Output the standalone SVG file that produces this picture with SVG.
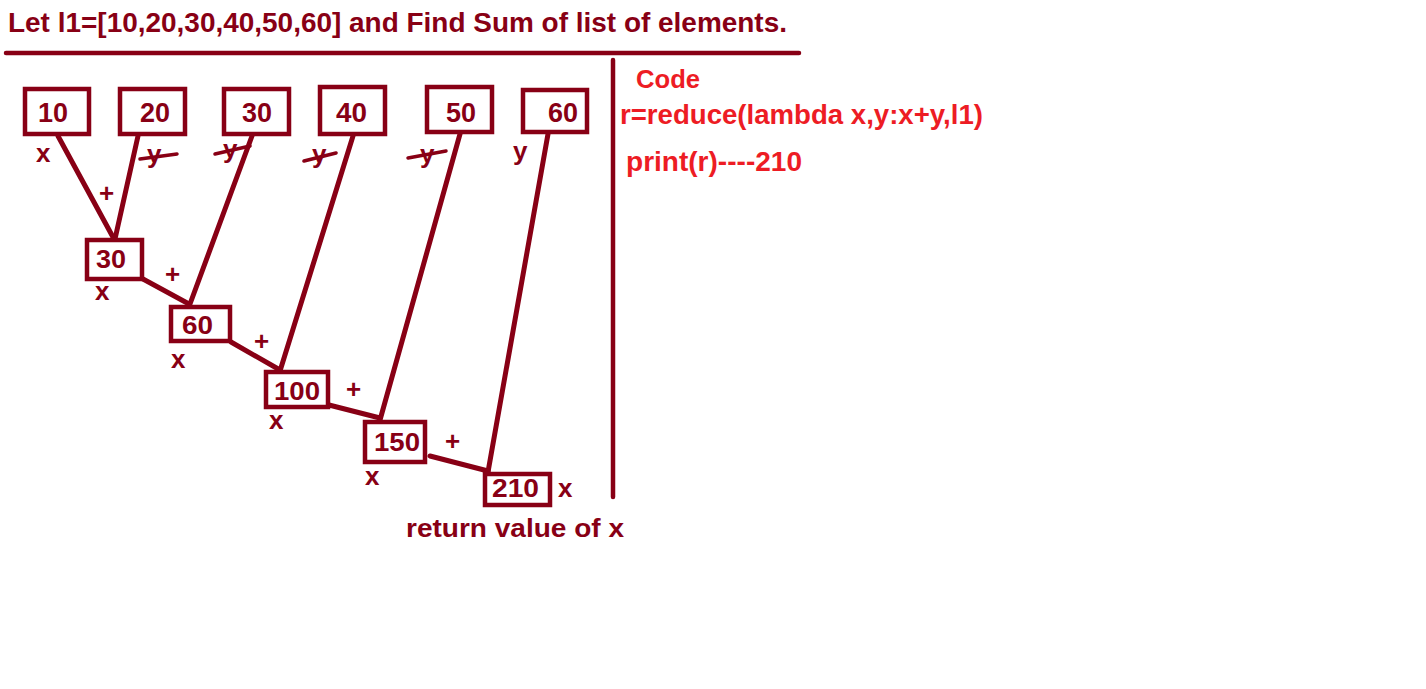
<svg xmlns="http://www.w3.org/2000/svg" width="1426" height="689" viewBox="0 0 1426 689">
<style>
.t{font-family:"Liberation Sans",Arial,sans-serif;font-weight:bold;fill:#880015}
.c{font-family:"Liberation Sans",Arial,sans-serif;font-weight:bold;fill:#ED1C24}
.box{fill:#fff;stroke:#880015;stroke-width:4.5}
.ln{stroke:#880015;stroke-width:5;stroke-linecap:round;fill:none}
.st{stroke:#880015;stroke-width:3.5;stroke-linecap:round;fill:none}
.n{font-size:28px}
.l{font-size:26px}
</style>
<rect width="1426" height="689" fill="#fff"/>
<g id="title">
<text class="t" x="8" y="32" font-size="28" textLength="779" lengthAdjust="spacingAndGlyphs">Let l1=[10,20,30,40,50,60] and Find Sum of list of elements.</text>
<line x1="6" y1="53" x2="799" y2="53" stroke="#880015" stroke-width="4.5" stroke-linecap="round"/>
</g>
<g id="separator">
<line x1="613" y1="60" x2="613" y2="497" stroke="#880015" stroke-width="4.5" stroke-linecap="round"/>
</g>
<g id="code">
<text class="c" x="636" y="88" font-size="26" textLength="64" lengthAdjust="spacingAndGlyphs">Code</text>
<text class="c" x="620" y="124" font-size="27" textLength="363" lengthAdjust="spacingAndGlyphs">r=reduce(lambda x,y:x+y,l1)</text>
<text class="c" x="626" y="171" font-size="27" textLength="176" lengthAdjust="spacingAndGlyphs">print(r)----210</text>
</g>
<g id="connectors">
<line class="ln" x1="58" y1="136" x2="114" y2="239"/>
<line class="ln" x1="138" y1="136" x2="115" y2="239"/>
<line class="ln" x1="252" y1="136" x2="190" y2="304"/>
<line class="ln" x1="143" y1="279" x2="189" y2="304"/>
<line class="ln" x1="353" y1="136" x2="280" y2="371"/>
<line class="ln" x1="231" y1="342" x2="280" y2="370"/>
<line class="ln" x1="460" y1="134" x2="380" y2="420"/>
<line class="ln" x1="329" y1="405" x2="380" y2="418"/>
<line class="ln" x1="548" y1="134" x2="488" y2="472"/>
<line class="ln" x1="430" y1="456" x2="488" y2="471"/>
</g>
<g id="n10"><rect class="box" x="25" y="89" width="64" height="45"/><text class="t n" x="38" y="122" textLength="30" lengthAdjust="spacingAndGlyphs">10</text></g>
<g id="n20"><rect class="box" x="120" y="89" width="65" height="45"/><text class="t n" x="140" y="122" textLength="30" lengthAdjust="spacingAndGlyphs">20</text></g>
<g id="n30"><rect class="box" x="224" y="89" width="65" height="45"/><text class="t n" x="242" y="122" textLength="30" lengthAdjust="spacingAndGlyphs">30</text></g>
<g id="n40"><rect class="box" x="320" y="87" width="65" height="47"/><text class="t n" x="336" y="122" textLength="31" lengthAdjust="spacingAndGlyphs">40</text></g>
<g id="n50"><rect class="box" x="427" y="87" width="65" height="45"/><text class="t n" x="446" y="122" textLength="30" lengthAdjust="spacingAndGlyphs">50</text></g>
<g id="n60"><rect class="box" x="523" y="90" width="64" height="42"/><text class="t n" x="548" y="122" textLength="30" lengthAdjust="spacingAndGlyphs">60</text></g>
<g id="r30"><rect class="box" x="87" y="240" width="55" height="39"/><text class="t l" x="96" y="268" textLength="30" lengthAdjust="spacingAndGlyphs">30</text></g>
<g id="r60"><rect class="box" x="171" y="307" width="59" height="34"/><text class="t l" x="182" y="334" textLength="31" lengthAdjust="spacingAndGlyphs">60</text></g>
<g id="r100"><rect class="box" x="266" y="372" width="62" height="35"/><text class="t l" x="274" y="400" textLength="46" lengthAdjust="spacingAndGlyphs">100</text></g>
<g id="r150"><rect class="box" x="365" y="422" width="60" height="40"/><text class="t l" x="374" y="451" textLength="46" lengthAdjust="spacingAndGlyphs">150</text></g>
<g id="r210"><rect class="box" x="485" y="474" width="65" height="31"/><text class="t l" x="492" y="497" textLength="47" lengthAdjust="spacingAndGlyphs">210</text></g>
<g id="labels">
<text class="t l" x="36" y="162">x</text>
<text class="t l" x="95" y="300">x</text>
<text class="t l" x="171" y="368">x</text>
<text class="t l" x="269" y="429">x</text>
<text class="t l" x="365" y="485">x</text>
<text class="t l" x="558" y="497">x</text>
<text class="t l" x="99" y="202">+</text>
<text class="t l" x="165" y="283">+</text>
<text class="t l" x="254" y="350">+</text>
<text class="t l" x="346" y="398">+</text>
<text class="t l" x="445" y="450">+</text>
<text class="t l" x="513" y="160">y</text>
<text class="t l" x="406" y="537" textLength="218" lengthAdjust="spacingAndGlyphs">return value of x</text>
</g>
<g id="struck-y">
<text class="t l" x="147" y="163">y</text><line class="st" x1="140" y1="159" x2="177" y2="154"/>
<text class="t l" x="223" y="158">y</text><line class="st" x1="215" y1="154" x2="250" y2="146"/>
<text class="t l" x="312" y="163">y</text><line class="st" x1="304" y1="161" x2="336" y2="153"/>
<text class="t l" x="420" y="163">y</text><line class="st" x1="408" y1="158" x2="446" y2="151"/>
</g>
</svg>
